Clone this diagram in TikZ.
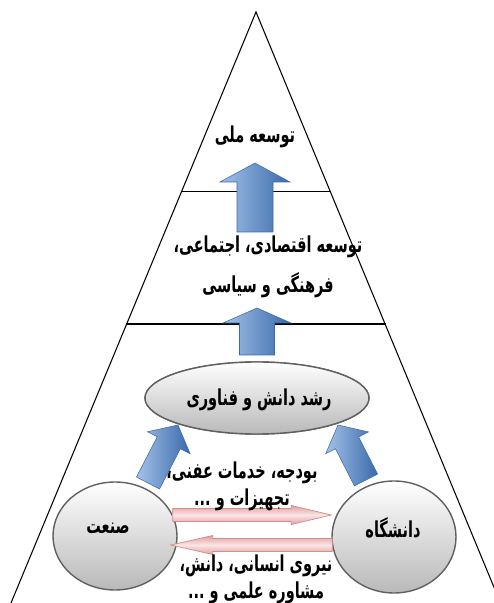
\documentclass[tikz,border=0pt]{standalone}
\usepackage{fontspec}
\usepackage{xcolor}
\usepackage{tikz}
\usetikzlibrary{calc,shapes.geometric}
\TeXXeTstate=1
\newfontfamily\farsi[Script=Arabic,FakeStretch=0.66]{DejaVu Sans}

\definecolor{arrowlight}{HTML}{A3C2E8}
\definecolor{arrowdark}{HTML}{3A69AA}
\definecolor{pinkedge}{HTML}{D48C8A}
\definecolor{pinkfill}{HTML}{FBE6E6}
\definecolor{pinkmid}{HTML}{E29E9E}

\newcommand{\px}{0.02cm}
% block arrow: style, from, to, half shaft, half head, head length
\newcommand{\fatarrow}[6]{%
  \coordinate (fa-h) at ($(#3)!#6*\px!(#2)$);
  \path[#1] ($(#2)!#4*\px!90:(#3)$) -- ($(fa-h)!#4*\px!90:(#3)$)
    -- ($(fa-h)!#5*\px!90:(#3)$) -- (#3) -- ($(fa-h)!#5*\px!-90:(#3)$)
    -- ($(fa-h)!#4*\px!-90:(#3)$) -- ($(#2)!#4*\px!-90:(#3)$) -- cycle;}

\tikzset{
  level/.style={draw=black, line width=0.6pt},
  bluearrow/.style={left color=arrowlight, right color=arrowdark, draw=arrowdark, line width=0.3pt},
  pinkarrow/.style={top color=pinkmid, bottom color=pinkmid, middle color=pinkfill, draw=pinkedge, line width=0.4pt},
  bubble/.style={ellipse, draw=gray!75!black, line width=0.8pt, top color=white, bottom color=gray!55, inner sep=0pt},
  label/.style={font=\farsi\bfseries\fontsize{12.5}{15.5}\selectfont, align=center, inner sep=0pt}
}

\begin{document}
\begin{tikzpicture}[x=\px, y=\px]
	\useasboundingbox (0,0) rectangle (494,603);
	\clip (0,0) rectangle (494,603);

	% pyramid
	\coordinate (apex) at (256,591);
	\draw[level] (11,0) -- (apex) -- (500.5,0);
	\draw[level] (181.5,411.3) -- (330,411.3);
	\draw[level] (126,279) -- (385.5,279);

	% circles and growth
	\node[bubble, minimum width=224*\px, minimum height=72*\px] (growth) at (257,205) {};
	\node[bubble, minimum width=124*\px, minimum height=108*\px] (industry) at (115,67) {};
	\node[bubble, minimum width=124*\px, minimum height=112*\px] (university) at (394,66) {};

	% blue arrows
	\coordinate (up1s) at (255,371);
	\coordinate (up1e) at (255,440);
	\coordinate (up2s) at (257,248);
	\coordinate (up2e) at (257,295);
	\coordinate (leftS) at (148,120);
	\coordinate (leftE) at (178,178);
	\coordinate (rightS) at (366,123);
	\coordinate (rightE) at (338,178);
	\fatarrow{bluearrow}{up1s}{up1e}{18}{35}{19}
	\fatarrow{bluearrow}{up2s}{up2e}{17.5}{34}{15}
	\fatarrow{bluearrow}{leftS}{leftE}{13}{24}{20}
	\fatarrow{bluearrow}{rightS}{rightE}{13}{24}{20}
	\node[bubble, minimum width=224*\px, minimum height=72*\px] at (growth) {};

	% pink arrows
	\coordinate (giveS) at ($(industry.east)+(-5,21)$);
	\coordinate (giveE) at ($(university.west)+(0,22)$);
	\coordinate (takeS) at ($(university.west)+(1,-8)$);
	\coordinate (takeE) at ($(industry.east)+(-7,-9)$);
	\fatarrow{pinkarrow}{giveS}{giveE}{6.5}{9.5}{40}
	\fatarrow{pinkarrow}{takeS}{takeE}{6.5}{9.5}{42}

	% texts
	\node[label] (national) at (255,466) {\beginR توسعه ملی\endR};
	\node[label] (social) at (268,336) {\beginR توسعه اقتصادی، اجتماعی،\endR\\[7pt]\beginR فرهنگی و سیاسی\endR};
	\node[label] at (259,203) {\beginR رشد دانش و فناوری\endR};
	\node[label] at (108,75) {\beginR صنعت\endR};
	\node[label] at (393,75) {\beginR دانشگاه\endR};
	\node[label] (budget) at (242,117) {\beginR بودجه، خدمات عفنی،\endR\\\beginR تجهیزات و ...\endR};
	\node[label] (manpower) at (256,24) {\beginR نیروی انسانی، دانش،\endR\\\beginR مشاوره علمی و ...\endR};
\end{tikzpicture}
\end{document}
